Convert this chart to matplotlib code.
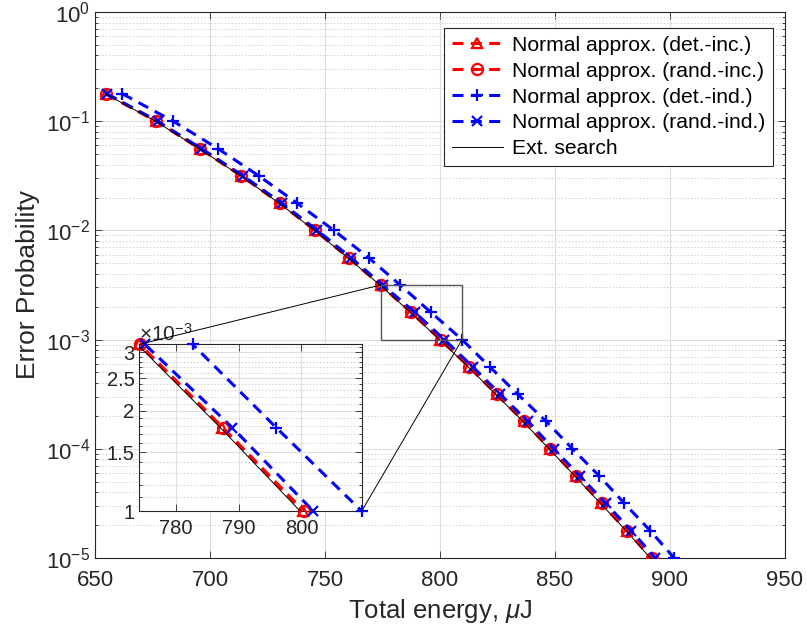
import numpy as np
import matplotlib
matplotlib.use('Agg')
import matplotlib.pyplot as plt
from matplotlib.patches import Rectangle, ConnectionPatch
from matplotlib.ticker import FixedLocator, FixedFormatter, NullFormatter, LogLocator, NullLocator

plt.rcParams['font.family'] = ['Liberation Sans', 'DejaVu Sans']
plt.rcParams['mathtext.fontset'] = 'custom'
plt.rcParams['mathtext.rm'] = 'Liberation Sans'
plt.rcParams['mathtext.it'] = 'Liberation Sans:italic'

# target error probabilities (y) and the energy needed for each (x)
p_err = [1.78e-1, 1.0e-1, 5.62e-2, 3.16e-2, 1.78e-2, 1.0e-2, 5.62e-3, 3.16e-3, 1.78e-3,
         1.0e-3, 5.62e-4, 3.16e-4, 1.78e-4, 1.0e-4, 5.62e-5, 3.16e-5, 1.78e-5, 1.0e-5]

energy_det_inc = [654.6, 676.6, 695.5, 713.6, 730.3, 745.7, 760.2, 774.2, 787.4,
                  800.2, 812.7, 824.6, 836.5, 847.8, 859.1, 870.2, 881.3, 891.9]
energy_rand_inc = [654.8, 676.7, 695.6, 713.7, 730.4, 745.8, 760.3, 774.3, 787.5,
                   800.4, 812.8, 824.7, 836.6, 847.9, 859.2, 870.3, 881.4, 892.0]
energy_det_ind = [661.9, 684.0, 703.4, 721.2, 737.8, 753.9, 769.0, 782.7, 796.0,
                  809.6, 821.7, 833.8, 846.2, 857.6, 869.3, 880.2, 891.4, 901.8]
energy_rand_ind = [655.2, 677.2, 696.2, 714.4, 731.2, 746.7, 761.3, 775.1, 789.0,
                   801.9, 814.3, 826.2, 838.2, 849.5, 860.9, 872.1, 883.2, 893.6]
energy_ext = [654.5, 676.3, 695.2, 713.3, 730.0, 745.4, 759.9, 773.9, 787.1,
              799.8, 812.3, 824.2, 836.1, 847.4, 858.7, 869.8, 880.9, 891.4]

labels = ['Normal approx. (det.-inc.)', 'Normal approx. (rand.-inc.)',
          'Normal approx. (det.-ind.)', 'Normal approx. (rand.-ind.)', 'Ext. search']

zoom_x = (774.2, 809.6)
zoom_y = (1.0e-3, 3.162e-3)

tick_col = '#262626'
dash = (3.6, 2.4)

# data, colour, marker, marker size
series = [
    (energy_det_inc, 'r', '^', 7),
    (energy_rand_inc, 'r', 'o', 8),
    (energy_det_ind, 'b', '+', 9),
    (energy_rand_ind, 'b', 'x', 7.5),
]


def style_axes(a, size):
    for s in a.spines.values():
        s.set_color(tick_col)
        s.set_linewidth(0.8)
    a.tick_params(which='both', direction='in', top=True, right=True,
                  colors=tick_col, labelsize=size, width=0.6)
    a.tick_params(which='major', length=5)
    a.tick_params(which='minor', length=2.5)


fig = plt.figure(figsize=(8.07, 6.31), dpi=100)
ax = fig.add_axes([0.1177, 0.1157, 0.855, 0.8653])

handles = []
for x, c, m, ms in series:
    h, = ax.plot(x, p_err, color=c, lw=2.2, dashes=dash, marker=m, ms=ms,
                 mfc='none', mew=1.6, zorder=3)
    handles.append(h)
h, = ax.plot(energy_ext, p_err, color='k', lw=0.7, zorder=4)
handles.append(h)

ax.set_yscale('log')
ax.set_xlim(650, 950)
ax.set_ylim(1e-5, 1)
ax.set_xticks(np.arange(650, 951, 50))
ax.xaxis.set_minor_locator(NullLocator())
ax.yaxis.set_major_locator(LogLocator(base=10, numticks=10))
ax.yaxis.set_minor_locator(LogLocator(base=10, subs=np.arange(2, 10), numticks=10))
ax.yaxis.set_minor_formatter(NullFormatter())
ax.grid(True, which='major', color='#dedede', lw=0.8)
ax.grid(True, which='minor', axis='y', color='#d0d0d0', lw=0.7, ls=(0, (1.5, 2)))
ax.set_axisbelow(True)
style_axes(ax, 16)
ax.tick_params(axis='x', which='major', pad=9)
ax.set_xlabel(r'Total energy, $\mu$J', fontsize=18.5, color=tick_col, labelpad=4)
ax.set_ylabel('Error Probability', fontsize=19, color=tick_col, labelpad=4)

leg = ax.legend(handles, labels, loc='upper right', bbox_to_anchor=(0.9826, 0.9707),
                borderaxespad=0, fontsize=15.2, handlelength=2.4, handletextpad=0.45,
                labelspacing=0.33, borderpad=0.36, fancybox=False, framealpha=1,
                edgecolor=tick_col)
leg.get_frame().set_linewidth(0.8)

# zoom box on the main axes
ax.add_patch(Rectangle((zoom_x[0], zoom_y[0]), zoom_x[1] - zoom_x[0], zoom_y[1] - zoom_y[0],
                       fill=False, edgecolor='#555555', lw=1.0, zorder=5))

# inset
axins = fig.add_axes([0.1726, 0.190, 0.2756, 0.2642])
for x, c, m, ms in series:
    axins.plot(x, p_err, color=c, lw=2.2, dashes=dash, zorder=3)
    xs = np.array(x)
    ps = np.array(p_err)
    keep = (xs >= zoom_x[0] - 0.1) & (xs <= zoom_x[1] + 0.1) & (ps >= zoom_y[0] * 0.99) & (ps <= zoom_y[1] * 1.01)
    axins.plot(xs[keep], ps[keep], ls='none', color=c, marker=m, ms=ms,
               mfc='none', mew=1.6, clip_on=False, zorder=4)
axins.plot(energy_ext, p_err, color='k', lw=0.7, zorder=5)
axins.set_yscale('log')
axins.set_xlim(*zoom_x)
axins.set_ylim(*zoom_y)
axins.xaxis.set_major_locator(FixedLocator([780, 790, 800]))
axins.xaxis.set_minor_locator(NullLocator())
yt = [1e-3, 1.5e-3, 2e-3, 2.5e-3, 3e-3]
axins.yaxis.set_major_locator(FixedLocator(yt))
axins.yaxis.set_major_formatter(FixedFormatter(['1', '1.5', '2', '2.5', '3']))
axins.yaxis.set_minor_locator(FixedLocator([v * 1e-4 for v in range(11, 32) if v % 5 != 0]))
axins.yaxis.set_minor_formatter(NullFormatter())
axins.grid(True, which='major', color='#dedede', lw=0.8)
axins.grid(True, which='minor', axis='y', color='#d0d0d0', lw=0.7, ls=(0, (1.5, 2)))
axins.set_axisbelow(True)
style_axes(axins, 14.5)
axins.tick_params(axis='x', which='major', pad=6)
axins.text(0.0, 1.0, r'$\times10^{-3}$', transform=axins.transAxes, ha='left', va='bottom',
           fontsize=15, color=tick_col)

for xa, xb in [((zoom_x[0], zoom_y[1]), (0, 1)), ((zoom_x[1], zoom_y[0]), (1, 0))]:
    con = ConnectionPatch(xyA=xa, coordsA=ax.transData, xyB=xb, coordsB=axins.transAxes,
                          color='k', lw=0.7, zorder=6)
    fig.add_artist(con)

fig.savefig('out.png', dpi=100)
